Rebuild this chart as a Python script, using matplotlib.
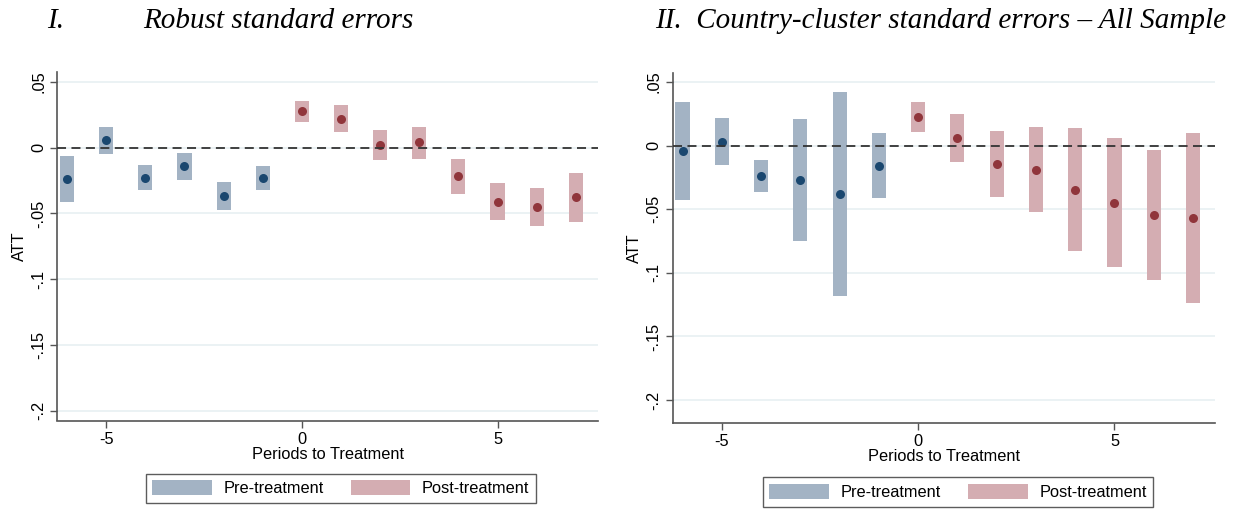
import numpy as np
import matplotlib
matplotlib.use("Agg")
import matplotlib.pyplot as plt
from matplotlib.patches import Patch

# event-time periods
periods = [-6, -5, -4, -3, -2, -1, 0, 1, 2, 3, 4, 5, 6, 7]

# panel I: robust standard errors
att_rob = [-0.024, 0.0056, -0.0229, -0.0143, -0.0366, -0.0232, 0.0277,
           0.0221, 0.0023, 0.004, -0.0219, -0.041, -0.045, -0.0379]
hi_rob = [-0.0066, 0.0155, -0.0135, -0.0038, -0.0259, -0.014, 0.0358,
          0.0322, 0.0132, 0.016, -0.0089, -0.0267, -0.0303, -0.0196]
lo_rob = [-0.041, -0.0046, -0.0323, -0.0244, -0.0473, -0.0325, 0.0195,
          0.0119, -0.0091, -0.0084, -0.0354, -0.0552, -0.0597, -0.0567]

# panel II: country-cluster standard errors
att_cl = [-0.0042, 0.0031, -0.0238, -0.0272, -0.038, -0.0157, 0.0226,
          0.0058, -0.0144, -0.0189, -0.0346, -0.0448, -0.0542, -0.0571]
hi_cl = [0.0341, 0.0215, -0.0115, 0.0208, 0.042, 0.0097, 0.0346,
         0.0247, 0.0116, 0.015, 0.0137, 0.006, -0.0034, 0.0097]
lo_cl = [-0.0424, -0.0154, -0.0362, -0.0752, -0.1182, -0.0409, 0.0105,
         -0.0128, -0.0401, -0.0524, -0.0828, -0.0956, -0.1053, -0.1237]

yticks = [0.05, 0, -0.05, -0.1, -0.15, -0.2]
ytick_labels = [".05", "0", "-.05", "-.1", "-.15", "-.2"]
xticks = [-5, 0, 5]

pre_bar, post_bar = "#a3b3c4", "#d4adb2"
pre_dot, post_dot = "#1a476f", "#90353b"
axis_col = "#555555"

plt.rcParams["font.family"] = ["Liberation Sans", "DejaVu Sans"]

W, H = 1252, 525
fig = plt.figure(figsize=(W / 100, H / 100), dpi=100)


def box(x0, y0, x1, y1):
    return [x0 / W, 1 - y1 / H, (x1 - x0) / W, (y1 - y0) / H]


def draw_panel(ax, att, lo, hi, ylim):
    x = np.array(periods)
    att, lo, hi = np.array(att), np.array(lo), np.array(hi)
    pre = x < 0
    for mask, bc, dc in [(pre, pre_bar, pre_dot), (~pre, post_bar, post_dot)]:
        ax.bar(x[mask], hi[mask] - lo[mask], bottom=lo[mask], width=0.36,
               color=bc, edgecolor="none", zorder=2)
        ax.plot(x[mask], att[mask], "o", color=dc, markersize=6.5,
                markeredgewidth=0, zorder=3)
    ax.axhline(0, color="#333333", linestyle=(0, (5, 3)), linewidth=1.3, zorder=4)
    ax.set_xlim(-6.25, 7.56)
    ax.set_ylim(*ylim)
    ax.set_yticks(yticks)
    ax.set_yticklabels(ytick_labels, rotation=90, va="center")
    ax.set_xticks(xticks)
    ax.set_xticklabels([str(t) for t in xticks])
    ax.grid(axis="y", color="#e8f0f2", linewidth=1.2, zorder=0)
    ax.set_axisbelow(True)
    for s in ["top", "right"]:
        ax.spines[s].set_visible(False)
    for s in ["left", "bottom"]:
        ax.spines[s].set_color(axis_col)
        ax.spines[s].set_linewidth(1.2)
    ax.tick_params(direction="out", length=5, width=1, color=axis_col,
                   labelsize=11.8, pad=3)
    ax.set_ylabel("ATT", fontsize=11.8, labelpad=3)
    ax.set_xlabel("Periods to Treatment", fontsize=11.8, labelpad=0)


ax1 = fig.add_axes(box(57.3, 72, 597.7, 420.5))
draw_panel(ax1, att_rob, lo_rob, hi_rob, (-0.2076, 0.0576))

ax2 = fig.add_axes(box(672.7, 72.7, 1215, 422.7))
draw_panel(ax2, att_cl, lo_cl, hi_cl, (-0.2178, 0.0573))

# panel titles
tfont = dict(family=["Liberation Serif", "DejaVu Serif"], style="italic", fontsize=21)
fig.text(47 / W, 1 - 28 / H, "I.", ha="left", va="baseline", **tfont)
fig.text(143 / W, 1 - 28 / H, "Robust standard errors", ha="left", va="baseline", **tfont)
fig.text(655 / W, 1 - 28 / H, "II.  Country-cluster standard errors \u2013 All Sample",
         ha="left", va="baseline", **tfont)

handles = [Patch(facecolor=pre_bar, edgecolor="none", label="Pre-treatment"),
           Patch(facecolor=post_bar, edgecolor="none", label="Post-treatment")]
for cx, cy in [(340.7, 488.3), (958, 492)]:
    leg = fig.legend(handles=handles, loc="center", bbox_to_anchor=(cx / W, 1 - cy / H),
                     ncol=2, fontsize=11.8, frameon=True, fancybox=False,
                     handlelength=3.65, handleheight=1.0, columnspacing=1.65,
                     borderpad=0.4, handletextpad=0.7)
    leg.get_frame().set_edgecolor("#333333")
    leg.get_frame().set_linewidth(1.0)

fig.savefig("out.png", dpi=100)
